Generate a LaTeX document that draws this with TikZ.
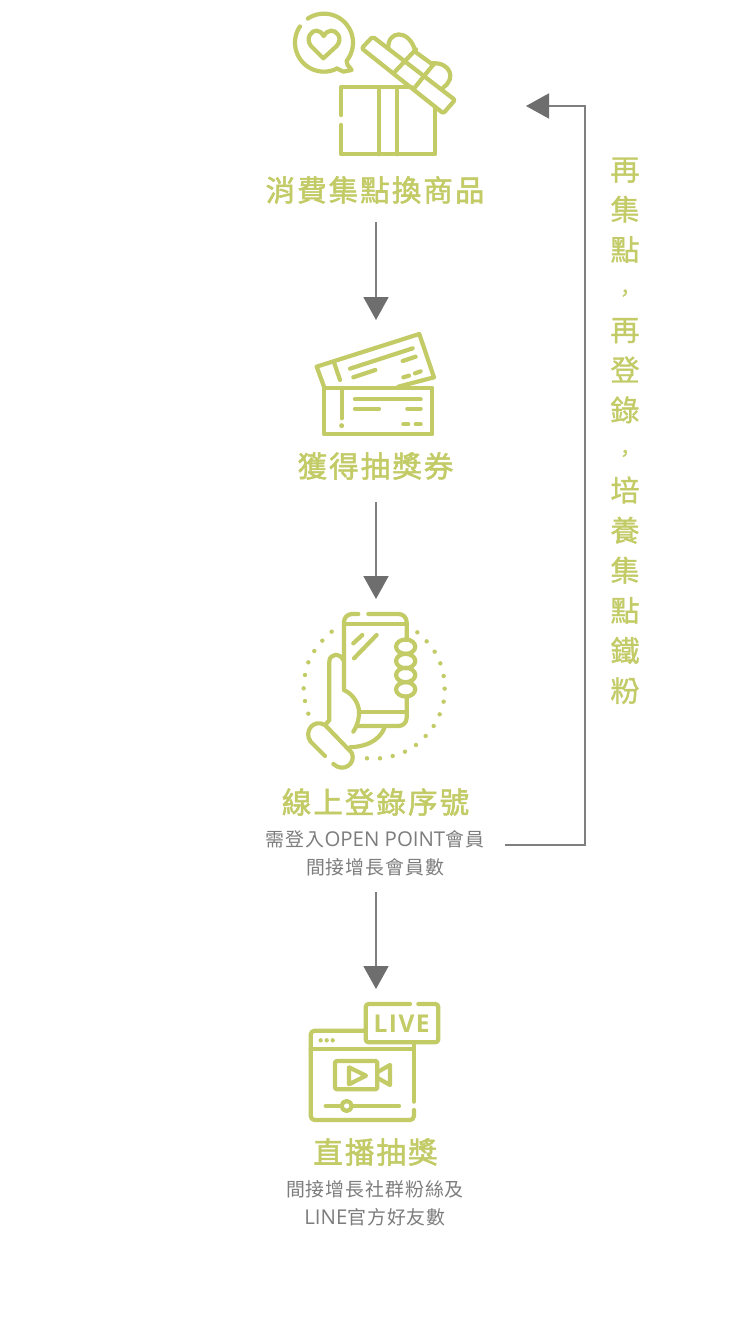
\documentclass[tikz,border=0pt]{standalone}
\usepackage{fontspec}
\usetikzlibrary{arrows.meta}
\setmainfont{Open Sans}
\newfontfamily\cjkbold[FakeBold=1.8,LetterSpace=7]{Noto Sans CJK TC}
\newfontfamily\cjkside[FakeBold=1.2]{Noto Sans CJK TC}
\newfontfamily\cjksub[LetterSpace=5]{Noto Sans CJK TC}
\newfontfamily\latsub{Open Sans}
\newfontfamily\liveface[LetterSpace=6]{Open Sans}
\definecolor{leaf}{HTML}{C2CB66}
\definecolor{flow}{HTML}{7F7F7F}
\definecolor{tip}{HTML}{6E6E6E}
\definecolor{subtxt}{HTML}{7D7D7D}
\tikzset{
  icon/.style={draw=leaf,line width=4.2pt,line cap=round,line join=round},
  headtext/.style={text=leaf,inner sep=0pt,font=\cjkbold\fontsize{29.5}{32}\selectfont},
  subtext/.style={text=subtxt,inner sep=0pt,font=\cjksub\fontsize{18.9}{22}\selectfont},
  flowline/.style={draw=flow,line width=1.8pt,-{Triangle[length=23pt,width=25pt,color=tip]}},
  dotmark/.style={fill=leaf,draw=none},
}
\newcommand{\lat}[1]{{\latsub\fontsize{20.4}{22}\selectfont #1}}
\newcommand{\smallcomma}{{\fontsize{21}{40.1}\selectfont ，}}
\begin{document}
\begin{tikzpicture}[x=1pt,y=-1pt]
\useasboundingbox (0,0) rectangle (750,1334);
\fill[white] (0,0) rectangle (750,1334);

% gift icon
\begin{scope}[shift={(280,0)},x=0.3333pt,y=-0.3333pt]
  \draw[icon] (395,262)--(183,262)--(183,345);
  \draw[icon] (183,375)--(183,463)--(466,463)--(466,322);
  \draw[icon] (297,265)--(297,463);
  \draw[icon] (350,265)--(350,463);
  \draw[icon,rounded corners=2pt] (278,110)--(525,300)--(490,340)--(245,145)--cycle;
  \draw[icon] (345,215)--(408,148);
  \draw[icon] (405,262)--(463,190);
  \draw[icon] (405,155)--(460,195);
  \draw[icon] (325,145) .. controls (322,92) and (385,85) .. (405,150);
  \draw[icon] (455,190) .. controls (510,185) and (530,235) .. (490,262);
  \draw[icon] plot[domain=-124:39,samples=40] ({132+87*cos(\x)},{128+87*sin(\x)})
     -- (203,195) -- (215,210) -- (190,215) -- (170,205);
  \draw[icon] plot[domain=64:214,samples=30] ({132+87*cos(\x)},{128+87*sin(\x)});
  \draw[icon] (130,175) -- (93,138) .. controls (75,115) and (95,90) .. (110,92)
     .. controls (120,92) and (128,100) .. (131,108)
     .. controls (135,100) and (143,92) .. (153,92)
     .. controls (170,90) and (190,115) .. (170,138) -- cycle;
\end{scope}

% ticket icon
\begin{scope}[shift={(300,320)},x=0.3333pt,y=-0.3333pt]
  \draw[icon] (72,203)--(397,203)--(397,343)--(72,343)--cycle;
  \draw[icon] (125,212)--(125,295);
  \fill[dotmark] (125,317) circle[radius=2.5pt];
  \draw[icon] (165,238)--(362,238);
  \draw[icon] (165,266)--(237,266);
  \draw[icon] (322,266)--(362,266);
  \draw[icon] (310,313)--(325,313);
  \draw[icon] (347,313)--(362,313);
  \draw[icon] (72,200)--(50,140)--(358,42)--(402,172)--(295,200);
  \draw[icon] (103,130)--(120,180);
  \draw[icon] (150,146)--(338,85);
  \draw[icon] (160,172)--(226,150);
  \draw[icon] (308,123)--(347,110);
  \draw[icon] (310,172)--(327,167);
  \draw[icon] (345,160)--(362,154);
\end{scope}

% phone icon
\begin{scope}[shift={(290,600)},x=0.3333pt,y=-0.3333pt]
  \draw[icon,rounded corners=8pt] (162,270)--(162,42)--(205,42);
  \draw[icon,rounded corners=8pt] (235,42)--(350,42)--(350,120);
  \draw[icon,rounded corners=8pt] (350,292)--(350,378)--(205,378);
  \draw[icon] (165,72)--(350,72);
  \draw[icon] (210,335)--(350,335);
  \draw[icon] (190,130)--(217,105);
  \draw[icon] (192,175)--(260,105);
  \draw[icon] (347,140) ellipse [x radius=9.6pt,y radius=7.2pt];
  \draw[icon] (347,183) ellipse [x radius=9.6pt,y radius=7.2pt];
  \draw[icon] (347,225) ellipse [x radius=9.6pt,y radius=7.2pt];
  \draw[icon] (347,268) ellipse [x radius=9.6pt,y radius=7.2pt];
  \draw[icon] (162,270) .. controls (195,285) and (210,320) .. (207,345) .. controls (205,365) and (200,380) .. (190,395);
  \draw[icon] (108,372)--(118,360)--(118,185) .. controls (118,160) and (150,158) .. (160,180);
  \draw[icon] (105,468)--(62,425) .. controls (40,395) and (70,355) .. (105,375)--(185,458) .. controls (200,490) and (160,520) .. (130,492);
  \draw[icon] (180,442) .. controls (225,440) and (265,425) .. (283,385);
  \foreach \px/\py in {125/95,97/122,73/153,55/187,45/225,41/265,45/303,55/341,382/97,410/124,434/155,451/190,461/228,464/266,461/305,449/343,431/378,407/408,378/435,345/455,308/468,270/475,231/475}
    \fill[dotmark] (\px,\py) circle[radius=2.2pt];
\end{scope}

% live icon
\begin{scope}[shift={(295,990)},x=0.3333pt,y=-0.3333pt]
  \draw[icon,rounded corners=3pt] (345,42)--(212,42)--(212,157)--(430,157)--(430,42)--(370,42);
  \draw[icon,rounded corners=4pt] (208,122)--(47,122)--(47,390)--(357,390)--(357,360);
  \draw[icon] (357,335)--(357,160);
  \draw[icon] (47,178)--(352,178);
  \fill[dotmark] (77,151) circle[radius=2.2pt];
  \fill[dotmark] (95,151) circle[radius=2.2pt];
  \fill[dotmark] (113,151) circle[radius=2.2pt];
  \draw[icon,rounded corners=2pt] (120,213)--(247,213)--(247,298)--(120,298)--cycle;
  \draw[icon] (250,245)--(285,225)--(285,285)--(250,265);
  \draw[icon] (162,232)--(213,257)--(162,283)--cycle;
  \draw[icon] (92,348)--(140,348);
  \draw[icon] (155,348) circle[radius=5pt];
  \draw[icon] (172,348)--(312,348);
  \node[text=leaf,inner sep=0pt,font=\liveface\bfseries\fontsize{24.5}{26}\selectfont] (livetag) at (320,100) {LIVE};
\end{scope}

% texts
\node[headtext] (t1) at (375,190) {消費集點換商品};
\node[headtext] (t2) at (375.5,466) {獲得抽獎券};
\node[headtext] (t3) at (375.5,802) {線上登錄序號};
\node[subtext] (s3a) at (375,839) {需登入\lat{OPEN POINT}會員};
\node[subtext] (s3b) at (375,867) {間接增長會員數};
\node[headtext] (t4) at (375.5,1152) {直播抽獎};
\node[subtext] (s4a) at (375,1189) {間接增長社群粉絲及};
\node[subtext] (s4b) at (375,1217) {\lat{LINE}官方好友數};
\node[text=leaf,inner sep=0pt,anchor=north,align=center,font=\cjkside\fontsize{29}{40.1}\selectfont] (side) at (625,157.5)
  {再\\集\\點\\\smallcomma\\再\\登\\錄\\\smallcomma\\培\\養\\集\\點\\鐵\\粉};

% connectors
\coordinate (a1s) at (376,222); \coordinate (a1e) at (376,320);
\coordinate (a2s) at (376,502); \coordinate (a2e) at (376,599);
\coordinate (a3s) at (376,892); \coordinate (a3e) at (376,989);
\coordinate (fs) at (505,845); \coordinate (fc1) at (585,845);
\coordinate (fc2) at (585,106); \coordinate (fe) at (526,106);
\draw[flowline] (a1s) -- (a1e);
\draw[flowline] (a2s) -- (a2e);
\draw[flowline] (a3s) -- (a3e);
\draw[flowline] (fs) -- (fc1) -- (fc2) -- (fe);
\end{tikzpicture}
\end{document}
